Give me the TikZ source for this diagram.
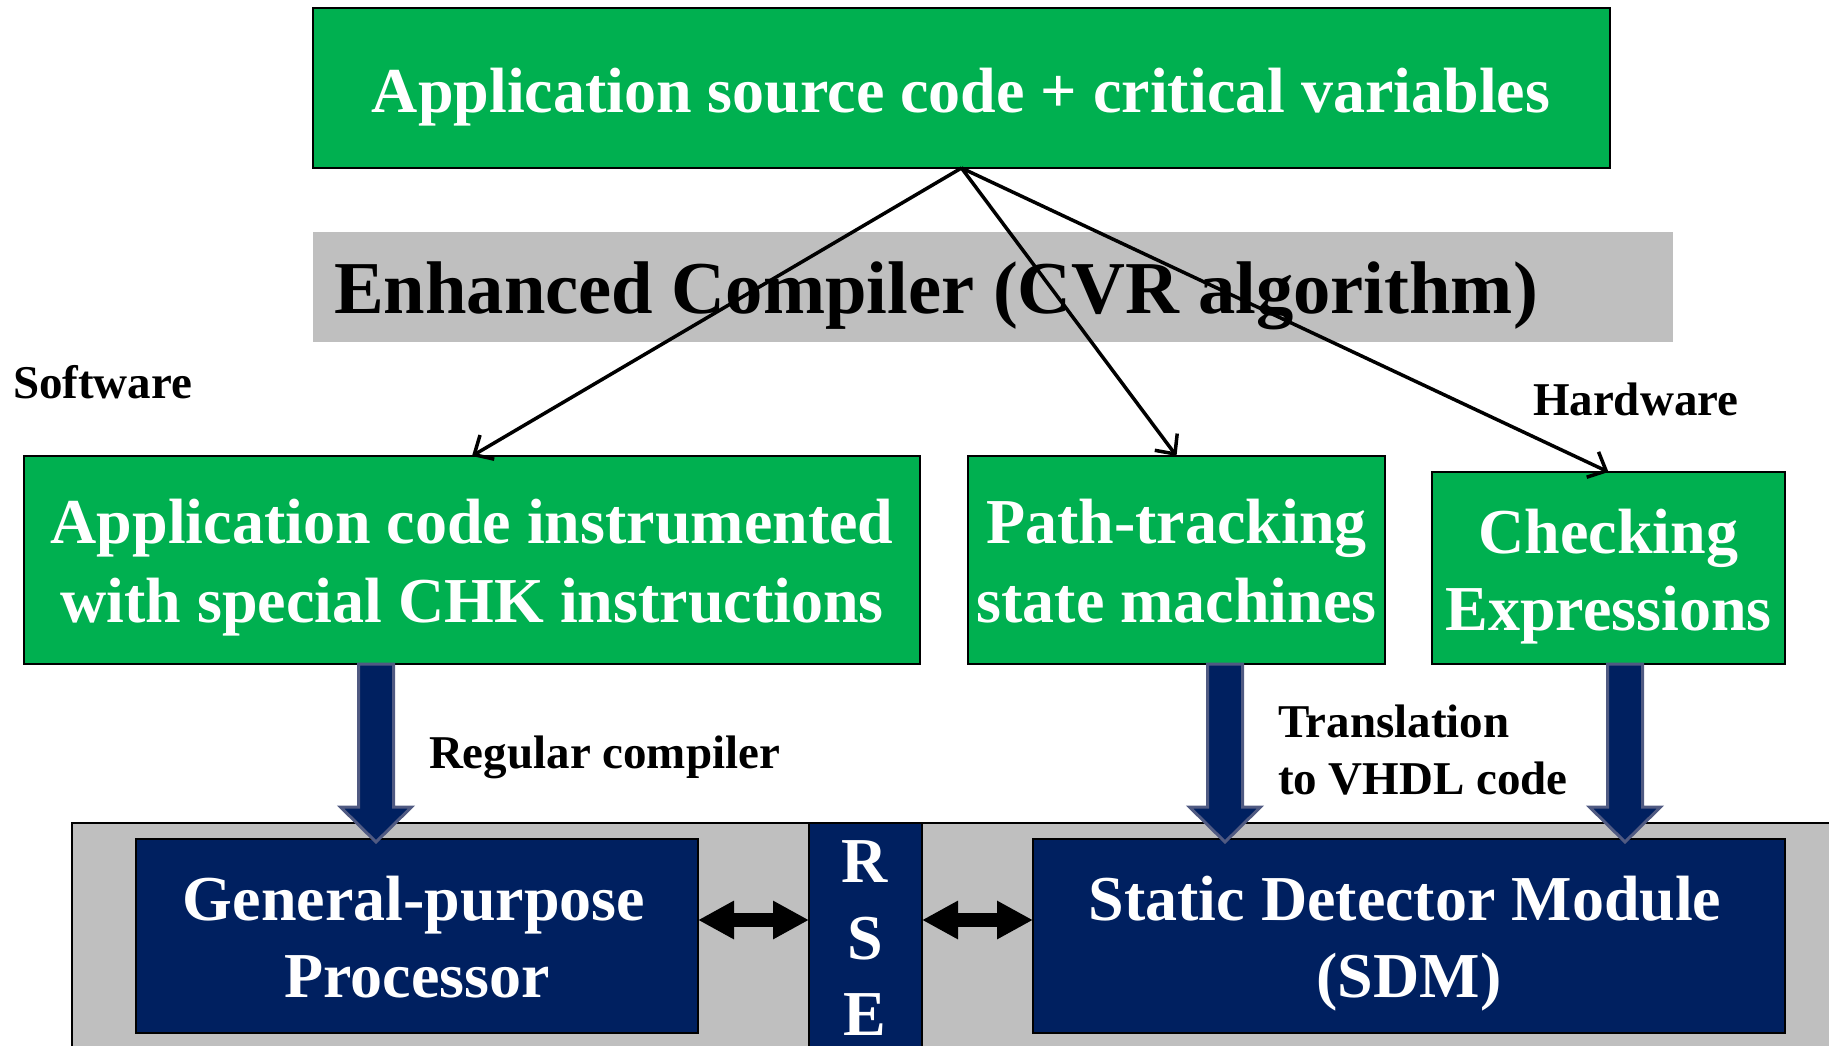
\documentclass[tikz,border=0pt]{standalone}
\usepackage{fontspec}
\setmainfont{Liberation Serif}
\usetikzlibrary{arrows.meta,calc}

\definecolor{boxgreen}{RGB}{0,176,80}
\definecolor{navy}{RGB}{0,32,96}
\definecolor{panelgray}{RGB}{191,191,191}
\definecolor{arrowedge}{RGB}{80,90,130}

\tikzset{
  every node/.style={outer sep=0pt},
  greenbox/.style={draw=black, line width=2.5pt, fill=boxgreen, inner sep=0pt},
  bluebox/.style={draw=black, line width=2.5pt, fill=navy, inner sep=0pt},
  bigtxt/.style={inner sep=0pt, text=white, font=\bfseries\fontsize{64}{77}\selectfont},
  darktxt/.style={inner sep=0pt, text=black, font=\bfseries\fontsize{47}{57}\selectfont},
  flowarrow/.style={draw=black, line width=3.5pt, -{Straight Barb[length=15pt,width=28pt]}},
  blockarrow/.style={fill=navy, draw=arrowedge, line width=3pt, line join=miter},
  dblarrow/.style={draw=black, line width=14pt,
    {Triangle[length=36pt,width=36pt]}-{Triangle[length=36pt,width=36pt]}}
}

% thick down arrow from a source point to a target point
\newcommand\blockarrow[2]{%
  \draw[blockarrow] let \p1=(#1), \p2=(#2) in
    (\x1-17.5pt,\y1) -- (\x1-17.5pt,\y2+32pt) -- (\x1-35.5pt,\y2+32pt) --
    (\x1,\y2-3pt) -- (\x1+35.5pt,\y2+32pt) -- (\x1+17.5pt,\y2+32pt) --
    (\x1+17.5pt,\y1) -- cycle;}

\begin{document}
\begin{tikzpicture}[x=1pt,y=-1pt]
\useasboundingbox (0,0) rectangle (1829,1045);

% ---- source and compiler ----
\node[greenbox, minimum width=1297pt, minimum height=160pt] (src) at (961.5,88) {};
\node[bigtxt, anchor=base] (srctxt) at (961,112) {Application source code + critical variables};

\node[fill=panelgray, minimum width=1360pt, minimum height=110pt, inner sep=0pt] (band) at (993,287) {};
\node[inner sep=0pt, anchor=base west, font=\bfseries\fontsize{74.6}{80}\selectfont] (bandtxt) at (334,313)
  {Enhanced Compiler (CVR algorithm)};

\node[darktxt, anchor=base west] (sw) at (13,398) {Software};
\node[darktxt, anchor=base west] (hw) at (1533,415) {Hardware};

% ---- compiler outputs ----
\node[greenbox, minimum width=896pt, minimum height=208pt] (appcode) at (472,560) {};
\node[bigtxt, anchor=base] (appl1) at (472,543) {Application code instrumented};
\node[bigtxt, anchor=base] (appl2) at (472,622) {with special CHK instructions};

\node[greenbox, minimum width=417pt, minimum height=208pt] (path) at (1176.5,560) {};
\node[bigtxt, anchor=base] (pathl1) at (1176.5,543) {Path-tracking};
\node[bigtxt, anchor=base] (pathl2) at (1176.5,622) {state machines};

\node[greenbox, minimum width=353pt, minimum height=192pt] (chk) at (1608.5,568) {};
\node[bigtxt, anchor=base] (chkl1) at (1608.5,553) {Checking};
\node[bigtxt, anchor=base] (chkl2) at (1608.5,630) {Expressions};

\draw[flowarrow] (src.south) -- (appcode.north);
\draw[flowarrow] (src.south) -- (path.north);
\draw[flowarrow] (src.south) -- (chk.north);

% ---- hardware platform ----
\fill[panelgray] (72,823) rectangle (1835,1050);
\draw[black, line width=2.5pt] (72,1050) -- (72,823) -- (1835,823);

\node[bluebox, minimum width=562pt, minimum height=194pt] (gpp) at (417,936) {};
\node[bigtxt, anchor=base] (gppl1) at (414,920) {General-purpose};
\node[bigtxt, anchor=base] (gppl2) at (417,997) {Processor};

\node[bluebox, line width=1.5pt, minimum width=113pt, minimum height=230pt] (rse) at (865.5,938) {};
\node[bigtxt, anchor=base] (rseR) at (865,882) {R};
\node[bigtxt, anchor=base] (rseS) at (865,959) {S};
\node[bigtxt, anchor=base] (rseE) at (865,1035) {E};

\node[bluebox, minimum width=752pt, minimum height=194pt] (sdm) at (1409,936) {};
\node[bigtxt, anchor=base] (sdml1) at (1405,920) {Static Detector Module};
\node[bigtxt, anchor=base] (sdml2) at (1409,997) {(SDM)};

% links to the RSE
\coordinate (linky) at (0,920);
\draw[dblarrow] (gpp.east |- linky) -- (rse.west |- linky);
\draw[dblarrow] (rse.east |- linky) -- (sdm.west |- linky);

% ---- translation steps ----
\coordinate (colA) at (376,0);
\coordinate (colB) at (1225,0);
\coordinate (colC) at (1625,0);
\path (appcode.south -| colA) coordinate (aS) (gpp.north -| colA) coordinate (aT);
\path (path.south -| colB) coordinate (bS) (sdm.north -| colB) coordinate (bT);
\path (chk.south -| colC) coordinate (cS) (sdm.north -| colC) coordinate (cT);
\blockarrow{aS}{aT}
\blockarrow{bS}{bT}
\blockarrow{cS}{cT}

\node[darktxt, anchor=base west] (regc) at (429,768) {Regular compiler};
\node[darktxt, anchor=base west] (trl1) at (1278,737) {Translation};
\node[darktxt, anchor=base west] (trl2) at (1278,794) {to VHDL code};
\end{tikzpicture}
\end{document}
